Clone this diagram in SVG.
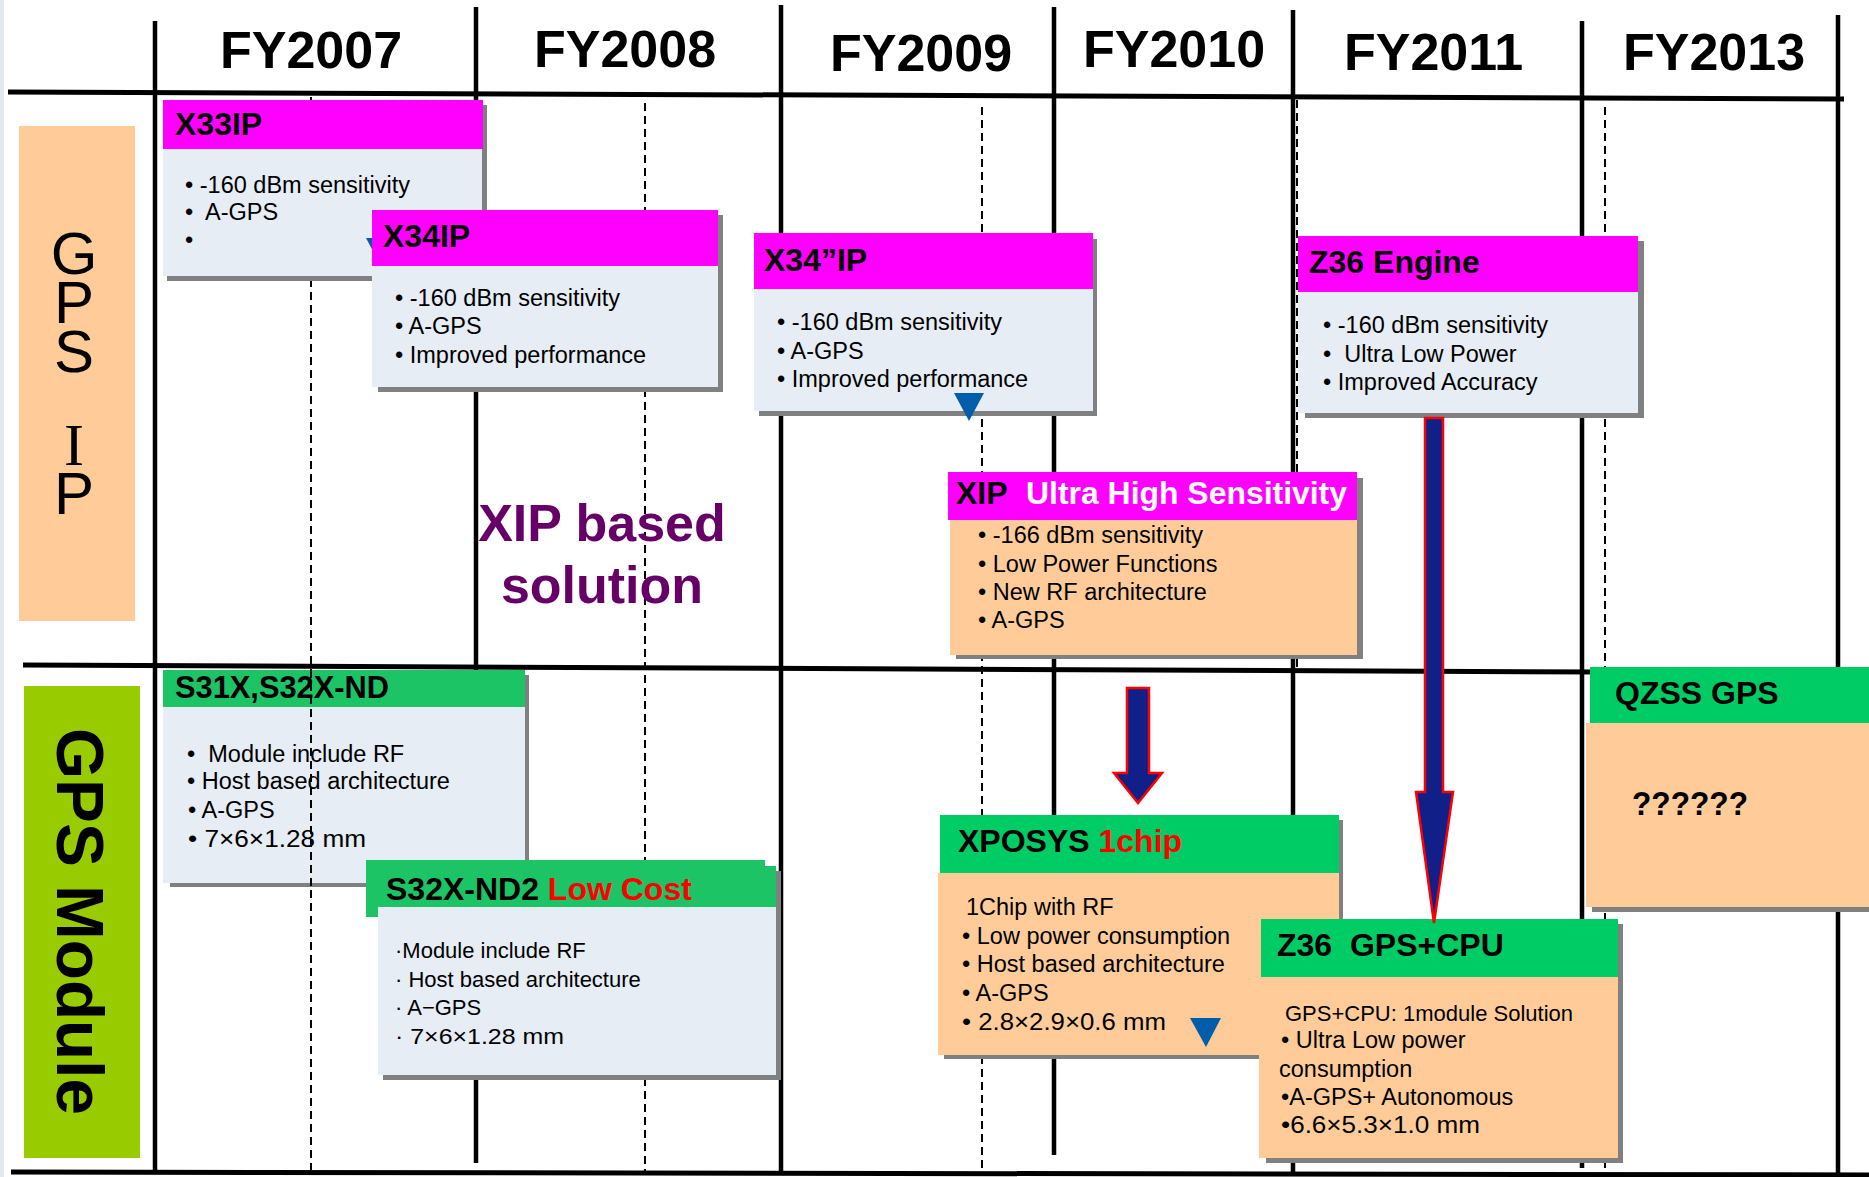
<svg xmlns="http://www.w3.org/2000/svg" width="1869" height="1177" viewBox="0 0 1869 1177">
<style>
text{font-family:"Liberation Sans",Arial,sans-serif;}
.yr{font-size:52px;font-weight:bold;fill:#000;}
.hd{font-size:32px;font-weight:bold;fill:#000;white-space:pre;}
.bd{font-size:23.5px;fill:#000;white-space:pre;}
.sm{font-size:22px;fill:#000;white-space:pre;}
.vt{font-size:60px;fill:#000;writing-mode:vertical-rl;text-orientation:upright;letter-spacing:-18px;}
.ln{stroke:#000;stroke-width:4.5;fill:none;}
.hl{stroke:#000;stroke-width:5;fill:none;}
.ds{stroke:#000;stroke-width:2;stroke-dasharray:8 5;fill:none;}
.sh{fill:#808080;}
.mag{fill:#FF00FF;}
.blu{fill:#E6EDF5;}
.pch{fill:#FFCC99;}
.grn{fill:#00CC66;}
.grn2{fill:#1CC466;}
.tri{fill:#005DAA;}
.arr{fill:#111F88;stroke:#FF0000;stroke-width:2.5;stroke-linejoin:miter;}
</style>
<rect x="0" y="0" width="1869" height="1177" fill="#FFFFFF"/>
<line x1="2" y1="0" x2="2" y2="1177" stroke="#E3E7EE" stroke-width="4"/>

<g id="label-gps-ip">
<rect x="19" y="126" width="116" height="495" class="pch"/>
<text x="74" y="220" class="vt">GPS</text>
<text x="74" y="412" class="vt"><tspan style="font-family:'Liberation Serif',serif">I</tspan>P</text>
</g>

<g id="label-gps-module">
<rect x="24" y="686" width="116" height="472" fill="#99CC00"/>
<text transform="translate(57,728) rotate(90)" font-size="66" font-weight="bold" textLength="387" lengthAdjust="spacingAndGlyphs">GPS Module</text>
</g>

<g id="grid">
<line x1="8" y1="92" x2="1844" y2="99" class="hl"/>
<line x1="23" y1="665" x2="1600" y2="672" class="hl"/>
<line x1="11" y1="1172" x2="1869" y2="1175" class="hl"/>
<line x1="155" y1="21" x2="155" y2="1170" class="ln"/>
<line x1="476" y1="7" x2="476" y2="1163" class="ln"/>
<line x1="781" y1="5" x2="781" y2="1173" class="ln"/>
<line x1="1054" y1="7" x2="1054" y2="1155" class="ln"/>
<line x1="1293" y1="10" x2="1293" y2="1174" class="ln"/>
<line x1="1582" y1="21" x2="1582" y2="1168" class="ln"/>
<line x1="1838" y1="15" x2="1838" y2="1174" class="ln"/>
<line x1="311" y1="97" x2="311" y2="1171" class="ds"/>
<line x1="645" y1="103" x2="645" y2="1172" class="ds"/>
<line x1="982" y1="107" x2="982" y2="1173" class="ds"/>
<line x1="1297" y1="100" x2="1297" y2="670" class="ds"/>
<line x1="1605" y1="107" x2="1605" y2="1174" class="ds"/>
</g>

<g id="years">
<text x="220" y="68" class="yr">FY2007</text>
<text x="534" y="67" class="yr">FY2008</text>
<text x="830" y="71" class="yr">FY2009</text>
<text x="1083" y="67" class="yr">FY2010</text>
<text x="1344" y="70" class="yr">FY2011</text>
<text x="1623" y="70" class="yr">FY2013</text>
</g>

<g id="xip-based-label">
<text x="602" y="541" font-size="52" font-weight="bold" fill="#660066" text-anchor="middle">XIP based</text>
<text x="602" y="603" font-size="52" font-weight="bold" fill="#660066" text-anchor="middle">solution</text>
</g>

<g id="node-x33ip">
<rect x="167" y="105" width="320" height="176" class="sh"/>
<rect x="163" y="149" width="319" height="127" class="blu"/>
<rect x="163" y="100" width="320" height="49" class="mag"/>
<text x="175" y="135" class="hd">X33IP</text>
<text x="185" y="193" class="bd">• -160 dBm sensitivity</text>
<text x="185" y="220" class="bd">•  A-GPS</text>
<text x="185" y="248" class="bd">•</text>
<polygon points="366,238 396,238 381,266" class="tri"/>
</g>

<g id="node-x34ip">
<rect x="378" y="215" width="345" height="177" class="sh"/>
<rect x="372" y="266" width="346" height="121" class="blu"/>
<rect x="372" y="210" width="346" height="56" class="mag"/>
<text x="383" y="247" class="hd">X34IP</text>
<text x="395" y="306" class="bd">• -160 dBm sensitivity</text>
<text x="395" y="334" class="bd">• A-GPS</text>
<text x="395" y="363" class="bd">• Improved performance</text>
</g>

<g id="node-x34ppip">
<rect x="759" y="239" width="338" height="177" class="sh"/>
<rect x="754" y="289" width="339" height="122" class="blu"/>
<rect x="754" y="233" width="339" height="56" class="mag"/>
<text x="764" y="271" class="hd">X34”IP</text>
<text x="777" y="330" class="bd">• -160 dBm sensitivity</text>
<text x="777" y="359" class="bd">• A-GPS</text>
<text x="777" y="387" class="bd">• Improved performance</text>
<polygon points="954,393 984,393 969,421" class="tri"/>
</g>

<g id="node-z36-engine">
<rect x="1305" y="241" width="339" height="177" class="sh"/>
<rect x="1298" y="292" width="340" height="121" class="blu"/>
<rect x="1298" y="236" width="340" height="56" class="mag"/>
<text x="1309" y="273" class="hd">Z36 Engine</text>
<text x="1323" y="333" class="bd">• -160 dBm sensitivity</text>
<text x="1323" y="362" class="bd">•  Ultra Low Power</text>
<text x="1323" y="390" class="bd">• Improved Accuracy</text>
</g>

<g id="node-xip">
<rect x="956" y="478" width="407" height="181" class="sh"/>
<rect x="950" y="520" width="407" height="135" class="pch"/>
<rect x="948" y="472" width="409" height="48" class="mag"/>
<text x="956" y="504" class="hd">XIP</text>
<text x="1026" y="504" class="hd" style="fill:#FFFFFF" textLength="321" lengthAdjust="spacingAndGlyphs">Ultra High Sensitivity</text>
<text x="978" y="543" class="bd">• -166 dBm sensitivity</text>
<text x="978" y="572" class="bd">• Low Power Functions</text>
<text x="978" y="600" class="bd">• New RF architecture</text>
<text x="978" y="628" class="bd">• A-GPS</text>
</g>

<g id="node-s31x">
<rect x="170" y="675" width="359" height="212" class="sh"/>
<rect x="163" y="707" width="362" height="176" class="blu"/>
<rect x="163" y="670" width="362" height="37" class="grn2"/>
<text x="175" y="698" class="hd" textLength="214" lengthAdjust="spacingAndGlyphs">S31X,S32X-ND</text>
<text x="187" y="762" class="bd">•  Module include RF</text>
<text x="187" y="789" class="bd">• Host based architecture</text>
<text x="188" y="818" class="bd">• A-GPS</text>
<text x="188" y="847" class="bd" textLength="178" lengthAdjust="spacingAndGlyphs">• 7×6×1.28 mm</text>
</g>

<g id="grid-overlay">
<line x1="311" y1="670" x2="311" y2="887" class="ds"/>
</g>

<g id="node-s32x-nd2">
<rect x="383" y="871" width="398" height="209" class="sh"/>
<rect x="366" y="860" width="399" height="57" class="grn2"/>
<rect x="366" y="866" width="410" height="41" class="grn2"/>
<rect x="378" y="907" width="398" height="168" class="blu"/>
<text x="386" y="900" class="hd">S32X-ND2 <tspan fill="#FF0000">Low Cost</tspan></text>
<text x="395" y="958" class="sm">·Module include RF</text>
<text x="395" y="987" class="sm">· Host based architecture</text>
<text x="395" y="1015" class="sm">· A−GPS</text>
<text x="395" y="1044" class="sm" textLength="169" lengthAdjust="spacingAndGlyphs">· 7×6×1.28 mm</text>
</g>

<g id="node-xposys">
<rect x="944" y="820" width="399" height="239" class="sh"/>
<rect x="938" y="873" width="401" height="182" class="pch"/>
<rect x="940" y="815" width="399" height="58" class="grn"/>
<text x="958" y="852" class="hd">XPOSYS <tspan fill="#FF0000">1chip</tspan></text>
<text x="966" y="915" class="bd">1Chip with RF</text>
<text x="962" y="944" class="bd">• Low power consumption</text>
<text x="962" y="972" class="bd">• Host based architecture</text>
<text x="962" y="1001" class="bd">• A-GPS</text>
<text x="962" y="1030" class="bd" textLength="204" lengthAdjust="spacingAndGlyphs">• 2.8×2.9×0.6 mm</text>
<polygon points="1190,1018 1221,1018 1206,1047" class="tri"/>
</g>

<g id="node-qzss">
<rect x="1592" y="730" width="277" height="182" class="sh"/>
<rect x="1586" y="723" width="283" height="184" class="pch"/>
<rect x="1590" y="667" width="279" height="56" class="grn"/>
<text x="1615" y="704" class="hd">QZSS GPS</text>
<text x="1632" y="815" font-size="34" font-weight="bold" textLength="116" lengthAdjust="spacingAndGlyphs">??????</text>
</g>

<g id="node-z36-gps-cpu">
<rect x="1266" y="924" width="357" height="239" class="sh"/>
<rect x="1259" y="977" width="359" height="181" class="pch"/>
<rect x="1261" y="919" width="357" height="58" class="grn"/>
<text x="1277" y="956" class="hd">Z36  GPS+CPU</text>
<text x="1285" y="1021" class="sm">GPS+CPU: 1module Solution</text>
<text x="1281" y="1048" class="bd">• Ultra Low power</text>
<text x="1279" y="1077" class="bd">consumption</text>
<text x="1281" y="1105" class="bd">•A-GPS+ Autonomous</text>
<text x="1281" y="1133" class="bd" textLength="199" lengthAdjust="spacingAndGlyphs">•6.6×5.3×1.0 mm</text>
</g>

<g id="connectors">
<polygon class="arr" points="1127,688 1149,688 1149,773 1162,773 1138,803 1114,773 1127,773"/>
<polygon class="arr" points="1425,418 1443,418 1443,792 1453,792 1434,923 1416,792 1425,792"/>
</g>
</svg>
